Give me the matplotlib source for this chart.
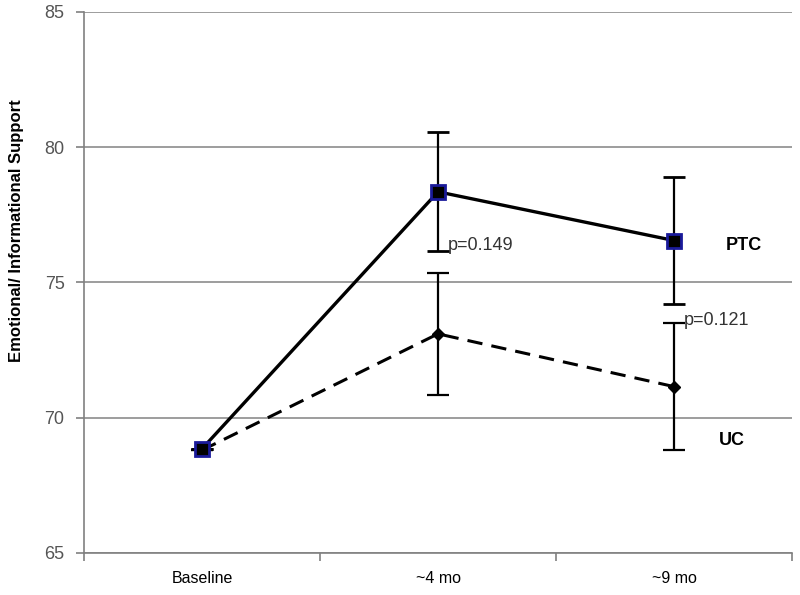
import numpy as np
import matplotlib.pyplot as plt

plt.rcParams['font.family'] = ['Liberation Sans', 'DejaVu Sans']

categories = ['Baseline', '~4 mo', '~9 mo']
ptc = [68.85, 78.35, 76.55]
ptc_err = [0, 2.2, 2.35]
uc = [68.8, 73.1, 71.15]
uc_err = [0, 2.25, 2.35]

fig = plt.figure(figsize=(8, 5.95), dpi=100)
ax = fig.add_axes([0.105, 0.0706, 0.885, 0.9094])

x = np.arange(len(categories))

ax.errorbar(x, uc, yerr=uc_err, color='black', linestyle=(0, (5, 3)), linewidth=2.2,
            marker='D', markersize=6, markerfacecolor='black', markeredgecolor='black',
            ecolor='black', elinewidth=1.6, capsize=8, capthick=1.6, zorder=3)
ax.errorbar(x, ptc, yerr=ptc_err, color='black', linestyle='-', linewidth=2.4,
            marker='s', markersize=10.5, markerfacecolor='black', markeredgecolor='#1a1a9a',
            markeredgewidth=2, ecolor='black', elinewidth=1.6, capsize=8, capthick=1.6, zorder=4)

ax.text(2.22, 76.35, 'PTC', fontsize=13, fontweight='bold', va='center', ha='left')
ax.text(2.19, 69.15, 'UC', fontsize=13, fontweight='bold', va='center', ha='left')
ax.text(1.04, 76.35, 'p=0.149', fontsize=13, color='#333333', va='center')
ax.text(2.04, 73.6, 'p=0.121', fontsize=13, color='#333333', va='center')

ax.set_xlim(-0.5, 2.5)
ax.set_ylim(65, 85)
ax.set_yticks([65, 70, 75, 80, 85])
ax.set_xticks(x)
ax.set_xticklabels(categories, fontsize=11.5)
ax.set_xticks([-0.5, 0.5, 1.5, 2.5], minor=True)
ax.tick_params(axis='x', which='major', length=0, pad=13)
ax.tick_params(axis='x', which='minor', length=6, color='#808080', width=1.2)
ax.tick_params(axis='y', length=6, color='#808080', width=1.2, labelsize=13, labelcolor='#555555', pad=8)

ax.grid(axis='y', color='#8c8c8c', linewidth=1.2, zorder=0)
for s in ['top', 'right']:
    ax.spines[s].set_visible(False)
for s in ['left', 'bottom']:
    ax.spines[s].set_color('#808080')
    ax.spines[s].set_linewidth(1.2)

ax.set_ylabel('Emotional/ Informational Support', fontsize=12, fontweight='bold')
ax.yaxis.set_label_coords(-0.085, 0.595)

fig.savefig('out.png', dpi=100)
